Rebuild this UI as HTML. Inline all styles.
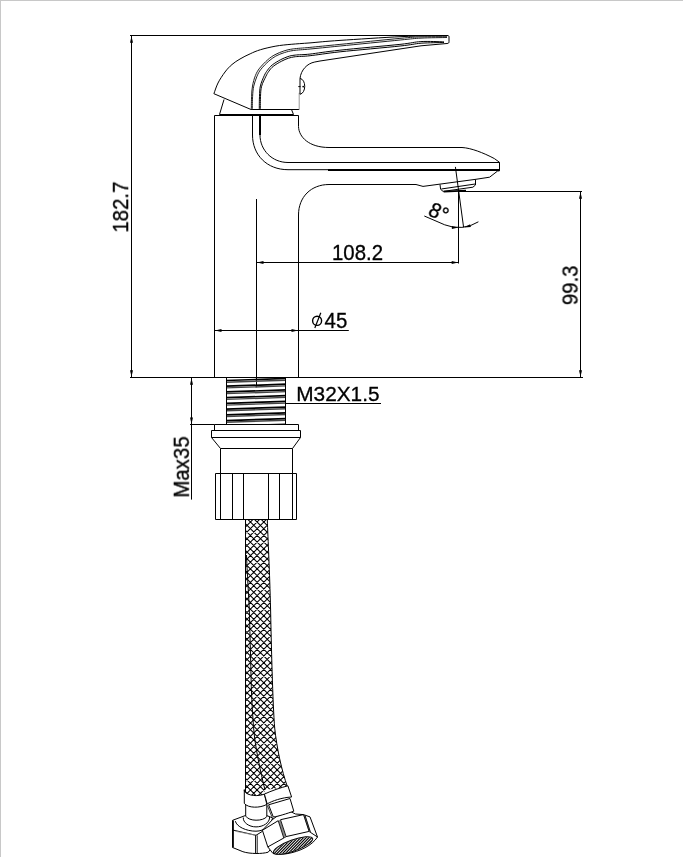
<!DOCTYPE html>
<html>
<head>
<meta charset="utf-8">
<title>Faucet dimension drawing</title>
<style>
html,body{margin:0;padding:0;background:#fff;}
body{width:683px;height:857px;overflow:hidden;position:relative;font-family:"Liberation Sans",sans-serif;}
svg{position:absolute;left:0;top:0;display:block;filter:grayscale(1);}
text{font-family:"Liberation Sans",sans-serif;font-size:20px;fill:#000;stroke:#000;stroke-width:0.3px;}
.l{fill:none;stroke:#000;stroke-width:1;}
.t{fill:none;stroke:#000;stroke-width:2;}
.f{fill:#000;stroke:none;}
</style>
</head>
<body>
<svg width="683" height="857" viewBox="0 0 683 857">
<defs>
<clipPath id="opc"><ellipse cx="293.1" cy="845.5" rx="20.3" ry="5.1" transform="rotate(-20 293.1 845.5)"/></clipPath>
</defs>
<rect x="0" y="0" width="683" height="857" fill="#fff"/>
<!-- frame -->
<rect x="0" y="0" width="683" height="1" fill="#c8c8c8"/>
<rect x="0" y="0" width="1" height="857" fill="#c8c8c8"/>

<!-- DIMENSIONS -->
<g id="dims" class="l">
<path d="M130,35.5H448"/>
<path d="M131.5,36V377"/>
<path d="M130,377.5H583"/>
<path d="M458.5,191.5H582"/>
<path d="M580.5,192V377"/>
<path d="M256.5,199V387.3"/>
<path d="M256.5,262.5H459"/>
<path d="M458.5,189.5V263.5"/>
<path d="M215,330.5H348.8"/>
<path d="M286,403.5H381"/>
<path d="M191.5,378V499.6"/>
<path d="M190,424.5H214.5"/>
</g>

<!-- FAUCET BODY -->
<g id="body" class="l">
<!-- column -->
<path d="M214.5,377.5V115.5H298.5V126.5C298.8,137 309,147.5 329,147.5H462C471,148 483,152.6 494.4,158.6L499.5,162.3V170.8L497.6,171L489.6,177.2L475.8,179.3L423,186.4L416,184.5H329C311,184.5 298.5,197 298.5,215V377.5"/>
<!-- spout inner lines -->
<path d="M260,114V135C260,150 272,162.5 288,162.5H499.5"/>
<path d="M252.5,114V135C252.5,155 267,169.7 288,169.7H330"/>
<path d="M328,170H499.5" stroke-width="2"/>
<path d="M260,114V135" stroke-width="2"/>
<!-- aerator -->
<path d="M440,184.5L440.6,189.3L443.1,191.4L472.9,187.2L475.5,185V179.3"/>
<path d="M441.3,189L475.2,184"/>
<path d="M443.7,191.6L466,190.6" stroke-width="1.7"/>
<!-- handle base -->
<path d="M219.5,115H293.5" stroke-width="2"/>
<path d="M219.5,114.5L224,99.5"/>
<path d="M293.5,114.5L291.5,109.5"/>
</g>
<!-- HANDLE -->
<g id="handle" class="l">
<path d="M213.9,93.7L251,109.5H299.2"/>
<path d="M299.2,109.5V92.8" stroke="#999"/>
<path d="M213.9,93.7C214.6,91.9 216.2,86.6 218.0,83.0C219.8,79.4 222.7,75.1 225.0,72.0C227.3,68.9 229.5,66.7 232.0,64.5C234.5,62.3 237.0,60.8 240.0,59.0C243.0,57.2 246.8,55.3 250.2,53.8C253.6,52.2 256.2,51.0 260.5,49.7C264.8,48.4 270.8,47.0 275.9,46.1C281.0,45.2 285.5,44.8 291.2,44.3C296.9,43.8 301.9,43.5 310.0,42.9C318.1,42.2 324.7,41.4 340.0,40.4C355.3,39.4 384.2,37.4 402.0,36.6C419.8,35.8 439.5,35.7 447.0,35.5C448.8,35.5 449,36 449,37V41.7C449,43 448.5,43.4 447,43.5L421,45.8L320,61L314.8,62C307,63.5 301,70 300,78.4"/>
<path d="M300,78.4V94.3"/>
<path d="M300,78.4C306.3,79.5 306.3,93 300,94.3"/>
<path d="M298.3,86.6H300.5" /><circle cx="303.2" cy="86.6" r="0.9" fill="#000" stroke="none"/>
<!-- grooves -->
<path d="M251.3,109.5C251.4,107.3 251.4,100.3 251.6,96.4C251.8,92.5 251.8,89.4 252.5,86.0C253.1,82.5 254.2,78.5 255.4,75.6C256.6,72.6 257.6,70.8 259.6,68.2C261.7,65.6 265.1,62.1 267.6,59.9C270.2,57.6 272.3,56.1 275.0,54.7C277.7,53.2 280.8,52.0 283.8,51.0C286.9,50.0 288.8,49.5 293.2,48.9C297.5,48.3 302.1,48.1 309.9,47.4C317.7,46.6 324.9,45.9 339.9,44.4C354.9,42.9 386.4,39.6 399.9,38.4C413.4,37.1 413.1,37.2 421.0,36.9C428.8,36.6 442.7,36.7 447.0,36.7" stroke="#222"/>
<path d="M252.3,109.5C252.3,107.3 252.4,100.3 252.6,96.4C252.8,92.5 253.0,89.6 253.7,86.2C254.5,82.9 255.8,79.1 257.0,76.2C258.2,73.4 259.0,71.7 261.0,69.2C262.9,66.7 266.3,63.3 268.8,61.1C271.2,59.0 273.2,57.6 275.8,56.1C278.4,54.7 281.4,53.5 284.4,52.6C287.3,51.7 289.1,51.1 293.4,50.5C297.7,49.9 302.3,49.8 310.1,49.0C317.9,48.3 325.1,47.5 340.1,46.0C355.1,44.5 386.6,41.4 400.1,40.0C413.6,38.7 413.2,38.5 421.0,38.1C428.8,37.7 442.7,37.6 447.0,37.5" stroke="#222"/>
<path d="M259.3,109.5C259.3,107.3 259.3,100.3 259.5,96.4C259.7,92.4 259.6,89.4 260.4,85.9C261.2,82.5 263.1,78.2 264.3,75.5C265.5,72.9 266.2,72.0 267.5,70.2C268.8,68.4 270.1,66.7 272.3,64.9C274.5,63.2 278.0,61.1 280.6,59.7C283.2,58.4 285.5,57.4 287.9,56.6C290.4,55.8 291.5,55.5 295.2,55.1C298.9,54.6 302.5,54.9 309.9,54.1C317.4,53.2 324.9,51.8 339.9,50.2C354.9,48.5 386.4,45.8 399.9,44.4C413.4,42.9 413.6,42.0 420.9,41.6C428.3,41.1 440.2,41.8 444.0,41.9"/>
<path d="M260.3,109.5C260.3,107.3 260.3,100.3 260.5,96.4C260.7,92.6 260.7,89.6 261.6,86.3C262.5,82.9 264.7,78.8 265.9,76.3C267.1,73.8 267.6,72.9 268.9,71.2C270.1,69.5 271.2,67.9 273.3,66.3C275.4,64.6 278.9,62.6 281.4,61.3C283.9,59.9 286.1,59.0 288.5,58.2C290.8,57.5 291.8,57.2 295.4,56.7C299.0,56.3 302.6,56.6 310.1,55.7C317.5,54.9 325.1,53.5 340.1,51.8C355.1,50.2 386.6,47.5 400.1,46.0C413.6,44.6 413.7,43.8 421.1,43.2C428.4,42.7 440.2,42.6 444.0,42.5"/>
</g>

<!-- ANGLE -->
<g id="angle" class="l">
<path d="M455.4,166.9L463.6,227.4"/>
<path d="M424.3,216L444.7,224.8A37,37 0 0 0 478.4,221.8"/>
</g>
<text opacity="0.999" transform="translate(426.9,214.4) rotate(26) scale(1,1.05)">8°</text>
<g id="arrows" class="f">
<path d="M131.5,36.3L133.0,42.8L130.0,42.8Z"/>
<path d="M131.5,376.8L130.0,370.3L133.0,370.3Z"/>
<path d="M580.5,192.3L582.0,198.8L579.0,198.8Z"/>
<path d="M580.5,376.8L579.0,370.3L582.0,370.3Z"/>
<path d="M257.0,262.5L263.5,261.0L263.5,264.0Z"/>
<path d="M458.2,262.5L451.7,264.0L451.7,261.0Z"/>
<path d="M215.0,330.5L221.5,329.0L221.5,332.0Z"/>
<path d="M298.0,330.5L291.5,332.0L291.5,329.0Z"/>
<path d="M191.5,378.3L193.0,384.8L190.0,384.8Z"/>
<path d="M191.5,424.0L190.0,417.5L193.0,417.5Z"/>
<path d="M458.4,227.5L451.9,228.9L451.9,225.9Z"/>
<path d="M464.2,227.4L470.1,224.2L470.9,227.1Z"/>
</g>
<!-- phi symbol -->
<g class="l"><ellipse cx="317.1" cy="320.8" rx="4.5" ry="4.6" stroke-width="1.4"/><path d="M314.8,328L320.8,312.8" stroke-width="1.2"/></g>
<!-- THREAD -->
<g id="thread">
<clipPath id="thc"><rect x="226.5" y="378" width="59" height="46"/></clipPath>
<g clip-path="url(#thc)">
<path d="M226,380.50L286,378.50" stroke="#000" stroke-width="1.7" fill="none"/>
<path d="M226,382.20L286,380.20" stroke="#444" stroke-width="1.4" fill="none"/>
<path d="M226,386.22L286,384.22" stroke="#000" stroke-width="1.7" fill="none"/>
<path d="M226,387.92L286,385.92" stroke="#444" stroke-width="1.4" fill="none"/>
<path d="M226,391.94L286,389.94" stroke="#000" stroke-width="1.7" fill="none"/>
<path d="M226,393.64L286,391.64" stroke="#444" stroke-width="1.4" fill="none"/>
<path d="M226,397.66L286,395.66" stroke="#000" stroke-width="1.7" fill="none"/>
<path d="M226,399.36L286,397.36" stroke="#444" stroke-width="1.4" fill="none"/>
<path d="M226,403.38L286,401.38" stroke="#000" stroke-width="1.7" fill="none"/>
<path d="M226,405.08L286,403.08" stroke="#444" stroke-width="1.4" fill="none"/>
<path d="M226,409.10L286,407.10" stroke="#000" stroke-width="1.7" fill="none"/>
<path d="M226,410.80L286,408.80" stroke="#444" stroke-width="1.4" fill="none"/>
<path d="M226,414.82L286,412.82" stroke="#000" stroke-width="1.7" fill="none"/>
<path d="M226,416.52L286,414.52" stroke="#444" stroke-width="1.4" fill="none"/>
<path d="M226,420.54L286,418.54" stroke="#000" stroke-width="1.7" fill="none"/>
<path d="M226,422.24L286,420.24" stroke="#444" stroke-width="1.4" fill="none"/>
<path d="M226,426.26L286,424.26" stroke="#000" stroke-width="1.7" fill="none"/>
<path d="M226,427.96L286,425.96" stroke="#444" stroke-width="1.4" fill="none"/>
</g>
<path class="l" d="M226.5,378V424M285.5,378V424"/>
</g>
<!-- NUT ASSEMBLY -->
<g id="nut" class="l">
<path d="M214.5,424.5H298.5V430.5H214.5Z"/>
<path d="M211.5,430.5H300.5V437.5H211.5Z"/>
<path d="M211.5,437.5L220.5,448.5H292.5L300.5,437.5"/>
<path d="M220.5,448.5V473.5M292.5,448.5V473.5"/>
<path d="M215.5,473.5H296.5V519.5H215.5Z"/>
<path d="M220.5,473.5V519.5M232.5,473.5V519.5M243.5,473.5V519.5M268.5,473.5V519.5M279.5,473.5V519.5M292.5,473.5V519.5"/>
</g>
<!-- HOSE -->
<g id="hose">
<clipPath id="hc"><path d="M245.5,519.2V795H266L264.5,790L287.5,787C281.5,770 276.8,748 274.7,728C272.7,705 271.2,640 270.6,610C269.6,570 268,540 267.3,519.2Z"/></clipPath>
<path clip-path="url(#hc)" d="M240.0,451.3L295.0,506.3M240.0,458.0L295.0,513.0M240.0,464.7L295.0,519.7M240.0,471.4L295.0,526.4M240.0,478.1L295.0,533.1M240.0,484.8L295.0,539.8M240.0,491.5L295.0,546.5M240.0,498.2L295.0,553.2M240.0,504.9L295.0,559.9M240.0,511.6L295.0,566.6M240.0,518.3L295.0,573.3M240.0,525.0L295.0,580.0M240.0,531.7L295.0,586.7M240.0,538.4L295.0,593.4M240.0,545.1L295.0,600.1M240.0,551.8L295.0,606.8M240.0,558.5L295.0,613.5M240.0,565.2L295.0,620.2M240.0,571.9L295.0,626.9M240.0,578.6L295.0,633.6M240.0,585.3L295.0,640.3M240.0,592.0L295.0,647.0M240.0,598.7L295.0,653.7M240.0,605.4L295.0,660.4M240.0,612.1L295.0,667.1M240.0,618.8L295.0,673.8M240.0,625.5L295.0,680.5M240.0,632.2L295.0,687.2M240.0,638.9L295.0,693.9M240.0,645.6L295.0,700.6M240.0,652.3L295.0,707.3M240.0,659.0L295.0,714.0M240.0,665.7L295.0,720.7M240.0,672.4L295.0,727.4M240.0,679.1L295.0,734.1M240.0,685.8L295.0,740.8M240.0,692.5L295.0,747.5M240.0,699.2L295.0,754.2M240.0,705.9L295.0,760.9M240.0,712.6L295.0,767.6M240.0,719.3L295.0,774.3M240.0,726.0L295.0,781.0M240.0,732.7L295.0,787.7M240.0,739.4L295.0,794.4M240.0,746.1L295.0,801.1M240.0,752.8L295.0,807.8M240.0,759.5L295.0,814.5M240.0,766.2L295.0,821.2M240.0,772.9L295.0,827.9M240.0,779.6L295.0,834.6M240.0,786.3L295.0,841.3M240.0,793.0L295.0,848.0M240.0,799.7L295.0,854.7M240.0,806.4L295.0,861.4M240.0,813.1L295.0,868.1M240.0,505.6L295.0,450.6M240.0,512.3L295.0,457.3M240.0,519.0L295.0,464.0M240.0,525.7L295.0,470.7M240.0,532.4L295.0,477.4M240.0,539.1L295.0,484.1M240.0,545.8L295.0,490.8M240.0,552.5L295.0,497.5M240.0,559.2L295.0,504.2M240.0,565.9L295.0,510.9M240.0,572.6L295.0,517.6M240.0,579.3L295.0,524.3M240.0,586.0L295.0,531.0M240.0,592.7L295.0,537.7M240.0,599.4L295.0,544.4M240.0,606.1L295.0,551.1M240.0,612.8L295.0,557.8M240.0,619.5L295.0,564.5M240.0,626.2L295.0,571.2M240.0,632.9L295.0,577.9M240.0,639.6L295.0,584.6M240.0,646.3L295.0,591.3M240.0,653.0L295.0,598.0M240.0,659.7L295.0,604.7M240.0,666.4L295.0,611.4M240.0,673.1L295.0,618.1M240.0,679.8L295.0,624.8M240.0,686.5L295.0,631.5M240.0,693.2L295.0,638.2M240.0,699.9L295.0,644.9M240.0,706.6L295.0,651.6M240.0,713.3L295.0,658.3M240.0,720.0L295.0,665.0M240.0,726.7L295.0,671.7M240.0,733.4L295.0,678.4M240.0,740.1L295.0,685.1M240.0,746.8L295.0,691.8M240.0,753.5L295.0,698.5M240.0,760.2L295.0,705.2M240.0,766.9L295.0,711.9M240.0,773.6L295.0,718.6M240.0,780.3L295.0,725.3M240.0,787.0L295.0,732.0M240.0,793.7L295.0,738.7M240.0,800.4L295.0,745.4M240.0,807.1L295.0,752.1M240.0,813.8L295.0,758.8M240.0,820.5L295.0,765.5M240.0,827.2L295.0,772.2M240.0,833.9L295.0,778.9M240.0,840.6L295.0,785.6M240.0,847.3L295.0,792.3M240.0,854.0L295.0,799.0M240.0,860.7L295.0,805.7M240.0,867.4L295.0,812.4" stroke="#000" stroke-width="1.06" fill="none"/>
<path class="l" d="M245.5,519.2V792" stroke-width="1.6"/>
<path class="l" d="M267.3,519.2C268,540 269.6,570 270.6,610C271.2,640 272.7,705 274.7,728C276.8,748 281.5,770 287.5,787"/>
<path class="l" d="M246.5,555C247.5,580 249,600 249.3,610C250.5,650 251,680 251.5,692C252.3,712 253.5,728 254.5,737C256.5,752 260,770 265,790"/>
</g>
<!-- FITTINGS -->
<g id="fit-left" class="l" fill="#fff">
<!-- hex nut -->
<path d="M232.6,820.3L245.2,815.6H266.8L272.9,818L274,845L268.2,852.2C262,854 250,854 242.9,851.7L232.6,847.5Z" fill="#fff"/>
<path d="M233,820.5V847.5" fill="none" stroke-width="1.7"/>
<path d="M233,830.1L256,835.3L262.6,831.2" fill="none"/>
<path d="M235.4,831.3L255.5,835.2" fill="none" stroke="#999" stroke-width="0.8"/>
<path d="M255.5,835.3V853.5M257.2,835.3V853.5" fill="none" stroke-width="0.9"/>
<!-- collar rings -->
<path d="M235.4,821.2C236.5,826.5 246,831.2 256,831.2C264.5,831.2 271,825 272.4,818.3" fill="none"/>
<path d="M243.3,817.5C242.8,822.5 249,826.9 256,826.9C263,826.9 269.8,823 269.6,817" fill="#fff"/>
<!-- neck -->
<path d="M245.7,804.5V816.1C249,821.5 263,821.5 266.8,816.6V804.5Z" fill="#fff"/>
<!-- ferrule -->
<path d="M244.3,789.6V803.4C248,808.2 260,808.3 266.8,804.4L264.4,794.1C258,796.6 248,796.2 244.3,791.2Z" fill="#fff"/>
</g>
<g id="fit-right" class="l" fill="#fff">
<!-- hex nut body -->
<path d="M262.4,830.3L272.9,819.2C277,815.6 284,812.8 290.5,811.6L295.5,814L303.5,814.6L310,816.9L317.5,837C312,845.5 300,851.5 287,853.7C281,854.5 276,854.3 273,853.5L267.8,846.9Z" fill="#fff"/>
<path d="M262.4,830.3L278.2,820.7M280.5,819.7L303.5,814.6" fill="none"/>
<path d="M267.8,846.9L283.8,838L286.1,836.6L309.1,831.4L310.5,832.4L317.5,837" fill="none"/>
<path d="M279.3,820.2L285,837.3" fill="none" stroke="#888" stroke-width="2.2"/>
<path d="M278.2,820.7L283.8,838M280.5,819.7L286.1,836.6" fill="none" stroke-width="0.9"/>
<path d="M304.2,814.8L309.8,831.9" fill="none" stroke="#888" stroke-width="1.6"/>
<path d="M303.5,814.6L309.1,831.4M304.9,815L310.5,832.4" fill="none" stroke-width="0.9"/>
<!-- opening -->
<ellipse cx="293.1" cy="845.5" rx="20.8" ry="5.6" transform="rotate(-20 293.1 845.5)" fill="#fff"/>
<g clip-path="url(#opc)"><path d="M255.6,844.0L290.3,808.1M257.0,845.4L291.8,809.5M258.5,846.8L293.2,810.8M259.9,848.2L294.6,812.2M261.3,849.6L296.1,813.6M262.8,851.0L297.5,815.0M264.2,852.4L299.0,816.4M265.7,853.8L300.4,817.8M267.1,855.1L301.8,819.2M268.5,856.5L303.3,820.6M270.0,857.9L304.7,822.0M271.4,859.3L306.2,823.3M272.9,860.7L307.6,824.7M274.3,862.1L309.0,826.1M275.7,863.5L310.5,827.5M277.2,864.9L311.9,828.9M278.6,866.3L313.3,830.3M280.0,867.7L314.8,831.7M281.5,869.0L316.2,833.1M282.9,870.4L317.7,834.5M284.4,871.8L319.1,835.9M285.8,873.2L320.5,837.2M287.2,874.6L322.0,838.6M288.7,876.0L323.4,840.0M290.1,877.4L324.9,841.4M291.6,878.8L326.3,842.8M293.0,880.2L327.7,844.2M294.4,881.5L329.2,845.6M295.9,882.9L330.6,847.0" stroke-width="1.15" stroke="#000" fill="none"/></g>
<!-- neck -->
<path d="M268.6,804.8L273.3,817C278,816.5 287,813.5 293.8,811.2L290,798.5Z" fill="#fff"/>
<path d="M267.4,805.5L271.9,816.8" fill="none" stroke-width="0.8"/>
<!-- ferrule -->
<path d="M264.4,794.1L267.2,803.9C272,801 282,797.5 291.6,797L287.9,785.8C281,787.5 271,791 264.4,794.1Z" fill="#fff"/>
</g>

<!-- TEXT -->
<g id="txt" opacity="0.999">
<text transform="translate(332,259.8) scale(1.02,1.06)">108.2</text>
<text transform="translate(324.6,328.1) scale(1.02,1.06)">45</text>
<text transform="translate(296.3,401.4) scale(1.04,1.045)">M32X1.5</text>
<text transform="translate(128.2,232.6) rotate(-90) scale(1.02,1.06)">182.7</text>
<text transform="translate(577.7,305.1) rotate(-90) scale(1.02,1.06)">99.3</text>
<text transform="translate(189,497.6) rotate(-90) scale(1.02,1.06)">Max35</text>
</g>
</svg>
</body>
</html>
